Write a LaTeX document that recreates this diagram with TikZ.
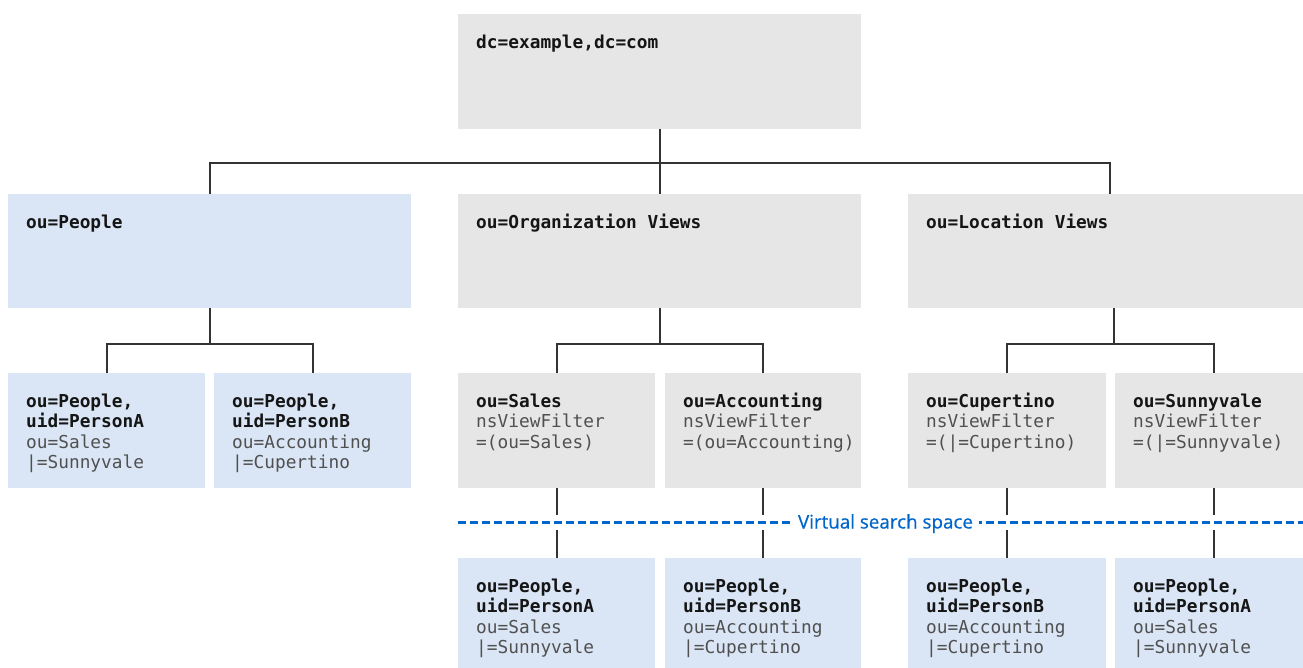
\documentclass[tikz,border=0pt]{standalone}
\usepackage{fontspec}
\setmonofont{DejaVu Sans Mono}
\newfontfamily\labelfont[FakeBold=0.6]{Open Sans}
\usetikzlibrary{calc}
\definecolor{boxgray}{HTML}{E6E6E6}
\definecolor{boxblue}{HTML}{DAE6F5}
\definecolor{linec}{HTML}{333333}
\definecolor{vblue}{HTML}{0066CC}
\definecolor{txtgray}{HTML}{505050}
\definecolor{txtdark}{HTML}{151515}
\newcommand\mylines[1]{\vtop{\baselineskip=20.6pt\lineskip=0pt\lineskiplimit=-30pt\halign{##\hfil\cr#1\crcr}}}
\newcommand\bl[1]{{\bfseries\color{txtdark}#1}}
\tikzset{
  boxbase/.style={draw=none, inner sep=0pt, anchor=north west, minimum width=#1},
  graybox/.style={boxbase=#1, fill=boxgray},
  bluebox/.style={boxbase=#1, fill=boxblue},
  lbl/.style={anchor=base west, inner sep=0pt, font=\ttfamily\fontsize{17.8}{20.6}\selectfont, text=txtgray},
  conn/.style={draw=linec, line width=2pt},
  vdash/.style={draw=vblue, line width=3pt, dash pattern=on 8pt off 4pt},
  vlabel/.style={fill=white, inner xsep=6pt, inner ysep=1pt, anchor=base, text=vblue, font=\labelfont\fontsize{18.8}{21}\selectfont}
}
\begin{document}
\begin{tikzpicture}[x=1pt, y=-1pt]
\useasboundingbox (0,0) rectangle (1303,667);
\clip (0,0) rectangle (1303,667);
% boxes
\node[graybox=403pt, minimum height=115pt] (root) at (458,14) {};
\node[bluebox=403pt, minimum height=114pt] (people) at (8,194) {};
\node[graybox=403pt, minimum height=114pt] (org) at (458,194) {};
\node[graybox=403pt, minimum height=114pt] (loc) at (908,194) {};
\node[bluebox=197pt, minimum height=115pt] (pa) at (8,373) {};
\node[bluebox=197pt, minimum height=115pt] (pb) at (214,373) {};
\node[graybox=197pt, minimum height=115pt] (vs) at (458,373) {};
\node[graybox=196pt, minimum height=115pt] (va) at (665,373) {};
\node[graybox=198pt, minimum height=115pt] (vc) at (908,373) {};
\node[graybox=197pt, minimum height=115pt] (vsu) at (1115,373) {};
\node[bluebox=197pt, minimum height=120pt] (ea) at (458,558) {};
\node[bluebox=196pt, minimum height=120pt] (eb) at (665,558) {};
\node[bluebox=198pt, minimum height=120pt] (ec) at (908,558) {};
\node[bluebox=197pt, minimum height=120pt] (ed) at (1115,558) {};
% texts
\node[lbl] (troot) at ($(root.north west)+(18,34)$) {\mylines{\bl{dc=example,dc=com}}};
\node[lbl] (tpeople) at ($(people.north west)+(18,34)$) {\mylines{\bl{ou=People}}};
\node[lbl] (torg) at ($(org.north west)+(18,34)$) {\mylines{\bl{ou=Organization Views}}};
\node[lbl] (tloc) at ($(loc.north west)+(18,34)$) {\mylines{\bl{ou=Location Views}}};
\node[lbl] (tpa) at ($(pa.north west)+(18,34)$) {\mylines{\bl{ou=People,}\cr\bl{uid=PersonA}\cr ou=Sales\cr |=Sunnyvale}};
\node[lbl] (tpb) at ($(pb.north west)+(18,34)$) {\mylines{\bl{ou=People,}\cr\bl{uid=PersonB}\cr ou=Accounting\cr |=Cupertino}};
\node[lbl] (tvs) at ($(vs.north west)+(18,34)$) {\mylines{\bl{ou=Sales}\cr nsViewFilter\cr =(ou=Sales)}};
\node[lbl] (tva) at ($(va.north west)+(18,34)$) {\mylines{\bl{ou=Accounting}\cr nsViewFilter\cr =(ou=Accounting)}};
\node[lbl] (tvc) at ($(vc.north west)+(18,34)$) {\mylines{\bl{ou=Cupertino}\cr nsViewFilter\cr =(|=Cupertino)}};
\node[lbl] (tvsu) at ($(vsu.north west)+(18,34)$) {\mylines{\bl{ou=Sunnyvale}\cr nsViewFilter\cr =(|=Sunnyvale)}};
\node[lbl] (tea) at ($(ea.north west)+(18,34)$) {\mylines{\bl{ou=People,}\cr\bl{uid=PersonA}\cr ou=Sales\cr |=Sunnyvale}};
\node[lbl] (teb) at ($(eb.north west)+(18,34)$) {\mylines{\bl{ou=People,}\cr\bl{uid=PersonB}\cr ou=Accounting\cr |=Cupertino}};
\node[lbl] (tec) at ($(ec.north west)+(18,34)$) {\mylines{\bl{ou=People,}\cr\bl{uid=PersonB}\cr ou=Accounting\cr |=Cupertino}};
\node[lbl] (ted) at ($(ed.north west)+(18,34)$) {\mylines{\bl{ou=People,}\cr\bl{uid=PersonA}\cr ou=Sales\cr |=Sunnyvale}};
% connectors
\draw[conn] (root.south) -- (org.north);
\draw[conn] (people.north) |- (loc.north |- 0,163) -- (loc.north);
\draw[conn] (people.south) -- (people.south |- 0,344);
\draw[conn] (pa.north) |- (pb.north |- 0,344) -- (pb.north);
\draw[conn] (org.south) -- (org.south |- 0,344);
\draw[conn] (vs.north) |- (va.north |- 0,344) -- (va.north);
\coordinate (lochub) at (1114,344);
\draw[conn] (lochub) -- (lochub |- loc.south);
\draw[conn] (vc.north) |- (vsu.north |- 0,344) -- (vsu.north);
\foreach \a/\b in {vs/ea, va/eb, vc/ec, vsu/ed} {
  \draw[conn] (\a.south) -- (\a.south |- 0,515);
  \draw[conn] (\b.north) -- (\b.north |- 0,530);
}
% virtual search space
\coordinate (vl) at (458,522);
\coordinate (vr) at (1303,522);
\draw[vdash] (vl) -- (vr);
\node[vlabel] (vtxt) at (885.5,528.5) {Virtual search space};
\end{tikzpicture}
\end{document}
